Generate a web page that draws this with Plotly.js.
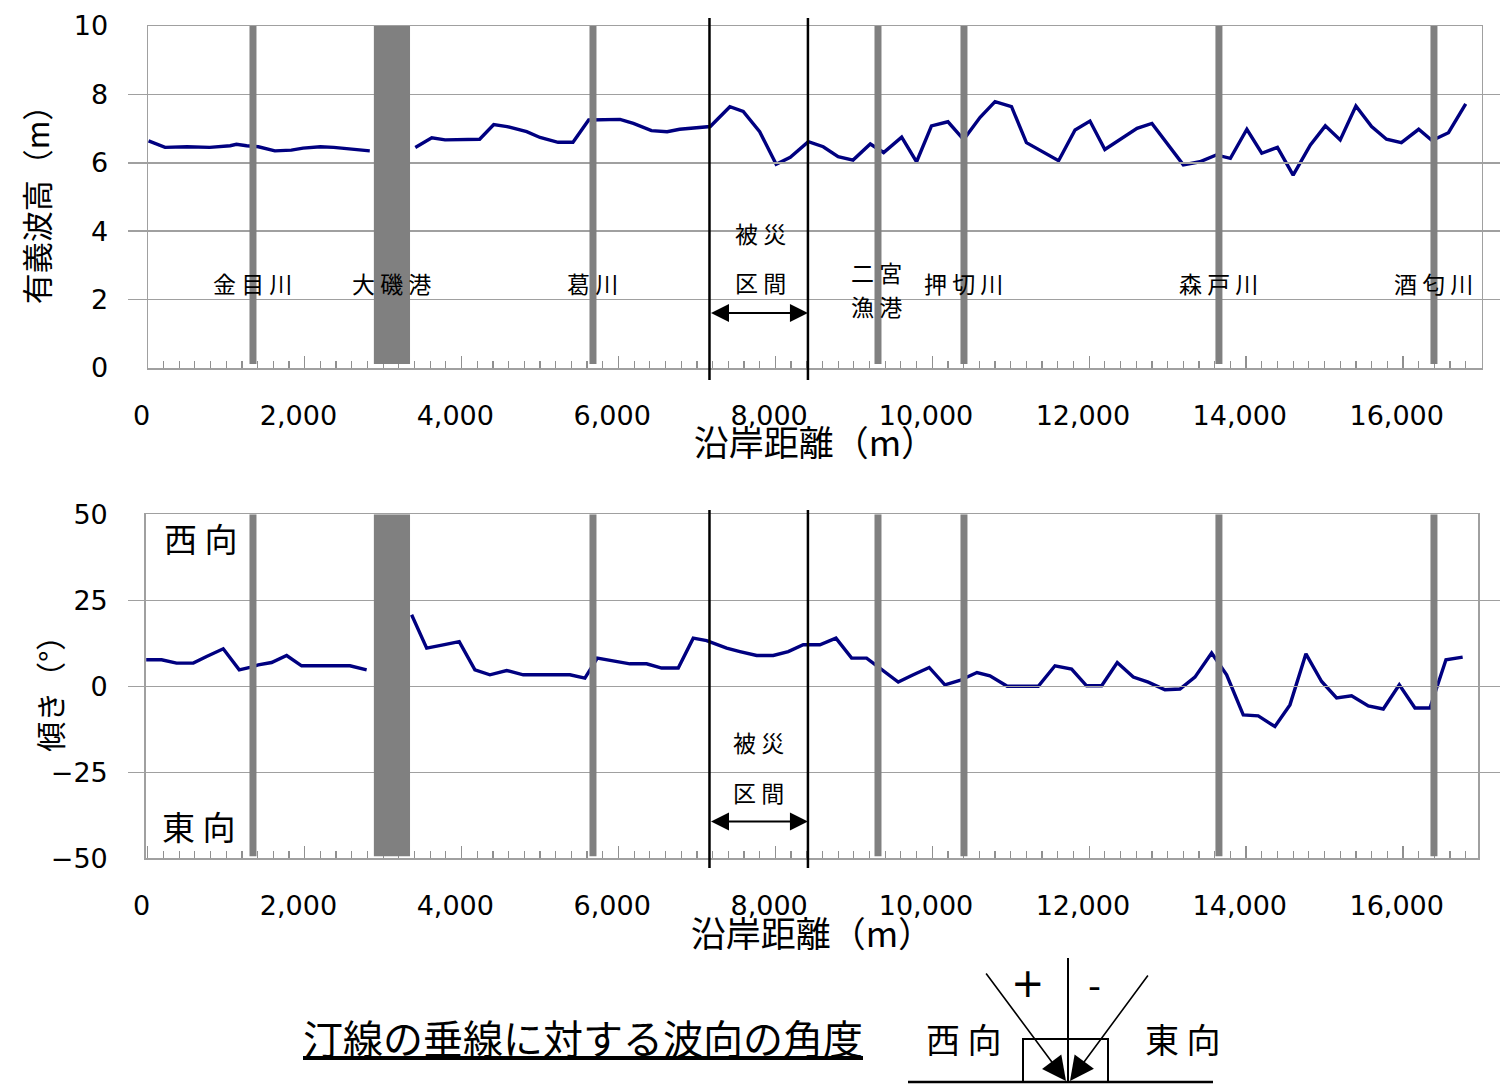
<!DOCTYPE html>
<html>
<head>
<meta charset="utf-8">
<script src="https://cdn.plot.ly/plotly-3.0.1.min.js"></script>
<style>html,body{margin:0;padding:0;background:#fff;}#chart{width:1500px;height:1085px;}</style>
</head>
<body>
<div id="chart"></div>
<script>
// ---- data ----
const distWave = [90,300,580,870,1130,1210,1340,1490,1700,1910,2060,2280,2450,2660,2910,3200,3490,3700,3870,4100,4310,4490,4660,4910,5080,5310,5500,5700,6100,6270,6500,6700,6860,7250,7500,7670,7880,8090,8270,8500,8690,8880,9070,9290,9460,9690,9880,10070,10280,10480,10690,10880,11090,11280,11690,11900,12090,12280,12520,12690,12880,13280,13490,13700,13880,14090,14280,14480,14680,14900,15090,15280,15480,15680,15870,16060,16280,16450,16660,16880];
const waveHeight = [6.64,6.45,6.47,6.45,6.50,6.54,6.50,6.47,6.35,6.37,6.43,6.47,6.45,6.40,6.35,null,6.45,6.73,6.67,6.67,6.69,7.12,7.06,6.91,6.74,6.60,6.60,7.25,7.27,7.15,6.94,6.91,6.98,7.06,7.64,7.50,6.91,5.96,6.16,6.62,6.47,6.18,6.08,6.55,6.30,6.75,6.03,7.08,7.20,6.68,7.33,7.79,7.64,6.59,6.06,6.96,7.22,6.39,6.75,7.01,7.15,5.94,6.03,6.23,6.13,6.98,6.28,6.45,5.64,6.52,7.08,6.67,7.66,7.06,6.69,6.59,6.98,6.65,6.88,7.72];

const distAngle = [60,256,447,660,830,1042,1246,1382,1488,1658,1850,2041,2657,2870,3150,3443,3635,3846,4050,4250,4441,4654,4866,5461,5652,5810,6226,6439,6630,6842,7033,7204,7459,7628,7841,8053,8244,8435,8648,8852,9052,9243,9435,9646,9838,10041,10241,10430,10650,10815,11036,11431,11644,11856,12047,12239,12438,12642,12833,13046,13237,13428,13641,13832,14044,14235,14448,14639,14843,15043,15234,15425,15638,15829,16033,16233,16424,16628,16841];
const waveAngle = [7.7,7.7,6.74,6.74,8.67,10.9,4.8,5.47,6.25,6.92,8.95,5.96,5.96,4.8,null,20.8,11.1,12.06,13.0,4.8,3.34,4.6,3.34,3.34,2.38,8.2,6.54,6.54,5.3,5.3,14.0,13.3,11.1,10.1,8.95,8.95,10.1,12.06,12.06,14.0,8.2,8.2,4.8,1.22,3.34,5.47,0.44,1.7,4.0,3.05,0,0,5.96,5.0,0.15,0.15,6.92,2.67,1.22,-1.0,-0.8,2.67,9.65,3.34,-8.3,-8.6,-11.7,-5.4,9.45,1.4,-3.4,-2.76,-5.7,-6.6,0.44,-6.3,-6.3,7.7,8.5];

const riverNames = ['金 目 川','葛 川','押 切 川','森 戸 川','酒 匂 川'];
const riverPos = [1421, 5755, 10484, 13734, 16475];
const harbourNames = ['大 磯 港','二 宮','漁 港'];
const harbourRange = [2962, 3423];   // 大磯港 (wide band)
const ninomiyaPos = 9388;             // 二宮漁港
const damageRange = [7240, 8495];     // 被災区間
const xTickVals = [0,2000,4000,6000,8000,10000,12000,14000,16000];
const xTickText = ['0','2,000','4,000','6,000','8,000','10,000','12,000','14,000','16,000'];

// ---- helpers ----
const W = 1500, H = 1085;
const px = v => v / W;
const py = v => 1 - v / H;
const CJK = '"Noto Sans CJK JP", "Noto Sans", sans-serif';
const NUM = '"DejaVu Sans", "Liberation Sans", Arial, sans-serif';
const GRAY = '#808080';
const GRID = '#a0a0a0';
const M_PER_PX = 12.747, X0_PX = 141.5;   // distance scale of the figure
const pxToDist = p => (p - X0_PX) * M_PER_PX;
const nulls = a => a.map(() => null);

const traces = [
  {x: distWave, y: waveHeight, xaxis: 'x', yaxis: 'y', type: 'scatter', mode: 'lines',
   line: {color: '#000080', width: 3.4}, connectgaps: false, hoverinfo: 'skip'},
  {x: distAngle, y: waveAngle, xaxis: 'x2', yaxis: 'y2', type: 'scatter', mode: 'lines',
   line: {color: '#000080', width: 3.4}, connectgaps: false, hoverinfo: 'skip'},
  // empty carriers so the label / title axes get drawn (no marks)
  {x: xTickVals, y: nulls(xTickVals), xaxis: 'x3', yaxis: 'y', type: 'scatter', mode: 'lines', hoverinfo: 'skip'},
  {x: xTickVals, y: nulls(xTickVals), xaxis: 'x4', yaxis: 'y2', type: 'scatter', mode: 'lines', hoverinfo: 'skip'},
  {x: xTickVals, y: nulls(xTickVals), xaxis: 'x', yaxis: 'y3', type: 'scatter', mode: 'lines', hoverinfo: 'skip'},
  {x: xTickVals, y: nulls(xTickVals), xaxis: 'x2', yaxis: 'y4', type: 'scatter', mode: 'lines', hoverinfo: 'skip'}
];

function boxXAxis(l, r, anchor) {
  return {
    domain: [px(l), px(r)], anchor: anchor, range: [pxToDist(l), pxToDist(r)],
    showticklabels: false, showgrid: false, zeroline: false,
    showline: true, linecolor: GRID, linewidth: 1.5, mirror: true,
    ticks: 'inside', tickmode: 'linear', tick0: 80, dtick: 2000, ticklen: 12,
    tickcolor: '#909090', tickwidth: 1.2,
    minor: {ticks: 'inside', tickmode: 'linear', tick0: 80, dtick: 200, ticklen: 7,
            tickcolor: '#909090', tickwidth: 1.2, showgrid: false},
    title: {text: '沿岸距離（m）', font: {family: CJK, size: 35, color: '#000'}, standoff: 63},
    automargin: false
  };
}
function labelXAxis(yPx) {
  return {
    anchor: 'free', position: py(yPx), domain: [px(128), 1],
    range: [pxToDist(128), pxToDist(1500)],
    tickmode: 'array', tickvals: xTickVals, ticktext: xTickText,
    ticks: '', showgrid: false, zeroline: false, showline: false,
    tickfont: {family: NUM, size: 27, color: '#000'},
    ticklabelstandoff: 29, automargin: false
  };
}
function titleYAxis(overlay, anchor, range, text, size, standoff) {
  return {
    overlaying: overlay, anchor: anchor, side: 'left', range: range,
    showticklabels: false, showgrid: false, zeroline: false, showline: false, ticks: '',
    title: {text: text, font: {family: CJK, size: size, color: '#000'}, standoff: standoff},
    automargin: false
  };
}

const layout = {
  width: W, height: H, autosize: false,
  margin: {l: 0, r: 0, t: 0, b: 0, pad: 0},
  paper_bgcolor: '#ffffff', plot_bgcolor: 'rgba(0,0,0,0)',
  showlegend: false,
  xaxis: boxXAxis(148, 1481.7, 'y'),
  xaxis2: boxXAxis(145.7, 1478, 'y2'),
  xaxis3: labelXAxis(368),
  xaxis4: labelXAxis(858.3),
  yaxis: {
    domain: [py(368), py(26)], anchor: 'x', range: [0, 10], dtick: 2, tick0: 0,
    showgrid: true, gridcolor: GRID, gridwidth: 1.5, zeroline: false,
    showline: true, linecolor: GRID, linewidth: 1.5, mirror: true, ticks: '',
    tickfont: {family: NUM, size: 27, color: '#000'}, ticklabelstandoff: 33,
    automargin: false
  },
  yaxis2: {
    domain: [py(858.3), py(514.3)], anchor: 'x2', range: [-50, 50], dtick: 25, tick0: 0,
    showgrid: true, gridcolor: GRID, gridwidth: 1.5, zeroline: false,
    showline: true, linecolor: GRID, linewidth: 1.5, mirror: true, ticks: '',
    tickfont: {family: NUM, size: 27, color: '#000'}, ticklabelstandoff: 31,
    automargin: false
  },
  yaxis3: titleYAxis('y', 'x', [0, 10], '有義波高（m）', 31, 88),
  yaxis4: titleYAxis('y2', 'x2', [-50, 50], '傾き（°）', 30, 73),
  shapes: [],
  annotations: []
};

// river bars (thin) + harbour bars
riverPos.concat([ninomiyaPos]).forEach(p => {
  layout.shapes.push({type: 'line', xref: 'x', yref: 'y', x0: p, x1: p, y0: 0.12, y1: 10,
                      line: {color: GRAY, width: 7}, layer: 'above'});
  layout.shapes.push({type: 'line', xref: 'x2', yref: 'y2', x0: p, x1: p, y0: -49.4, y1: 50,
                      line: {color: GRAY, width: 7}, layer: 'above'});
});
layout.shapes.push({type: 'rect', xref: 'x', yref: 'y', x0: harbourRange[0], x1: harbourRange[1],
                    y0: 0.12, y1: 10, fillcolor: GRAY, line: {width: 0}, layer: 'above'});
layout.shapes.push({type: 'rect', xref: 'x2', yref: 'y2', x0: harbourRange[0], x1: harbourRange[1],
                    y0: -49.4, y1: 50, fillcolor: GRAY, line: {width: 0}, layer: 'above'});
// damage section black lines
damageRange.forEach(p => {
  layout.shapes.push({type: 'line', xref: 'x', yref: 'paper', x0: p, x1: p, y0: py(380), y1: py(18),
                      line: {color: '#000', width: 2.5}, layer: 'above'});
  layout.shapes.push({type: 'line', xref: 'x2', yref: 'paper', x0: p, x1: p, y0: py(868), y1: py(510),
                      line: {color: '#000', width: 2.5}, layer: 'above'});
});

const lblFont = {family: CJK, size: 23, color: '#000'};
const C = {xanchor: 'center', yanchor: 'middle', showarrow: false};
// river labels (top)
riverNames.forEach((n, i) => {
  layout.annotations.push(Object.assign({xref: 'x', yref: 'y', x: riverPos[i], y: 2.49, text: n, font: lblFont}, C));
});
layout.annotations.push(Object.assign({xref: 'x', yref: 'y', x: (harbourRange[0] + harbourRange[1]) / 2, y: 2.49,
                         text: harbourNames[0], font: lblFont}, C));
layout.annotations.push(Object.assign({xref: 'x', yref: 'y', x: ninomiyaPos - 20, y: 2.81, text: harbourNames[1], font: lblFont}, C));
layout.annotations.push(Object.assign({xref: 'x', yref: 'y', x: ninomiyaPos - 20, y: 1.81, text: harbourNames[2], font: lblFont}, C));
const midDamage = (damageRange[0] + damageRange[1]) / 2 + 20;
layout.annotations.push(Object.assign({xref: 'x', yref: 'y', x: midDamage, y: 3.95, text: '被 災', font: lblFont}, C));
layout.annotations.push(Object.assign({xref: 'x', yref: 'y', x: midDamage, y: 2.51, text: '区 間', font: lblFont}, C));
layout.annotations.push(Object.assign({xref: 'x2', yref: 'y2', x: midDamage - 20, y: -16.1, text: '被 災', font: lblFont}, C));
layout.annotations.push(Object.assign({xref: 'x2', yref: 'y2', x: midDamage - 20, y: -30.7, text: '区 間', font: lblFont}, C));
// double arrows for damage section
[['x', 'y', 1.61], ['x2', 'y2', -39.3]].forEach(a => {
  layout.annotations.push({xref: a[0], yref: a[1], axref: a[0], ayref: a[1],
    x: damageRange[1], y: a[2], ax: damageRange[0], ay: a[2], text: '', showarrow: true,
    arrowhead: 2, startarrowhead: 2, arrowside: 'end+start', arrowsize: 1.8, startarrowsize: 1.8,
    arrowwidth: 2, arrowcolor: '#000', standoff: 0, startstandoff: 0});
});
// direction labels in bottom panel
layout.annotations.push(Object.assign({xref: 'paper', yref: 'paper', x: px(200), y: py(538), text: '西 向',
                         font: {family: CJK, size: 33, color: '#000'}}, C));
layout.annotations.push(Object.assign({xref: 'paper', yref: 'paper', x: px(198), y: py(826), text: '東 向',
                         font: {family: CJK, size: 33, color: '#000'}}, C));

// explanation at bottom
layout.annotations.push(Object.assign({xref: 'paper', yref: 'paper', x: px(583), y: py(1037),
  text: '<span style="text-decoration:underline">汀線の垂線に対する波向の角度</span>',
  font: {family: CJK, size: 40, color: '#000'}}, C));
layout.annotations.push(Object.assign({xref: 'paper', yref: 'paper', x: px(964), y: py(1038), text: '西 向',
                         font: {family: CJK, size: 34, color: '#000'}}, C));
layout.annotations.push(Object.assign({xref: 'paper', yref: 'paper', x: px(1183), y: py(1038), text: '東 向',
                         font: {family: CJK, size: 34, color: '#000'}}, C));
layout.annotations.push(Object.assign({xref: 'paper', yref: 'paper', x: px(1028), y: py(983), text: '+',
                         font: {family: NUM, size: 40, color: '#000'}}, C));
layout.annotations.push(Object.assign({xref: 'paper', yref: 'paper', x: px(1094), y: py(985), text: '-',
                         font: {family: NUM, size: 36, color: '#000'}}, C));
layout.annotations.push({xref: 'paper', yref: 'paper', x: px(1066), y: py(1081), ax: -81, ay: -109,
  text: '', showarrow: true, arrowhead: 2, arrowsize: 3, arrowwidth: 1.6, arrowcolor: '#000', standoff: 0});
layout.annotations.push({xref: 'paper', yref: 'paper', x: px(1070), y: py(1081), ax: 79, ay: -107,
  text: '', showarrow: true, arrowhead: 2, arrowsize: 3, arrowwidth: 1.6, arrowcolor: '#000', standoff: 0});
layout.shapes.push({type: 'line', xref: 'paper', yref: 'paper', x0: px(1068), x1: px(1068), y0: py(958), y1: py(1083),
                    line: {color: '#000', width: 2}});
layout.shapes.push({type: 'line', xref: 'paper', yref: 'paper', x0: px(908), x1: px(1213), y0: py(1082), y1: py(1082),
                    line: {color: '#000', width: 2.5}});
layout.shapes.push({type: 'rect', xref: 'paper', yref: 'paper', x0: px(1023), x1: px(1108), y0: py(1082), y1: py(1039),
                    line: {color: '#000', width: 2}, fillcolor: 'rgba(0,0,0,0)'});

Plotly.newPlot('chart', traces, layout, {staticPlot: true, displayModeBar: false});
</script>
</body>
</html>
